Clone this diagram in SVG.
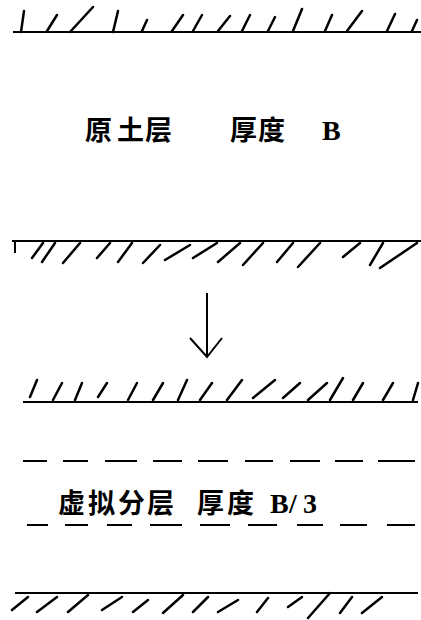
<svg xmlns="http://www.w3.org/2000/svg" width="421" height="620" viewBox="0 0 421 620">
<style>
.ln{stroke:#000;stroke-width:2;fill:none}
.h{stroke:#000;stroke-width:2.5;fill:none;stroke-linecap:round}
.cj{font-family:"Noto Sans CJK SC","Noto Sans CJK JP",sans-serif;font-weight:bold;font-size:27px;fill:#000}
.lt{font-family:"Liberation Serif",serif;font-weight:bold;font-size:28px;fill:#000}
</style>
<rect width="421" height="620" fill="#fff"/>
<g id="top-ground">
<line class="ln" x1="13" y1="32" x2="421" y2="32"/>
<path class="h" d="M21 32L24 11M47 31L57 15M70 32L93 7M113 32L118 11M142 31L147 20M172 31L183 15M193 31L202 15M218 31L230 16M242 31L250 15M268 31L275 17M293 31L302 9M325 31L332 15M347 31L362 11M387 31L395 14M412 31L417 20"/>
</g>
<g id="label-original">
<text class="cj" x="85 117 145 200 230 258" y="140">原土层 厚度</text>
<text class="lt" x="322" y="140">B</text>
</g>
<g id="bottom-ground-original">
<line class="ln" x1="12" y1="241" x2="421" y2="241"/>
<line class="ln" x1="15" y1="241" x2="15" y2="253"/>
<path class="h" d="M32 258L43 243M42 262L55 243M63 263L80 243M97 258L110 243M118 262L132 243M143 263L160 245M165 260L190 245M193 258L217 243M218 262L240 243M243 265L263 243M277 262L293 243M298 267L320 243M343 257L360 243M370 265L383 243M380 268L417 243"/>
</g>
<g id="connectors">
<line class="ln" x1="207" y1="293" x2="207" y2="357"/>
<path class="ln" d="M190 338L207 357L222 338"/>
</g>
<g id="top-ground-virtual">
<line class="ln" x1="23" y1="402" x2="418" y2="402"/>
<path class="h" d="M30 397L37 380M53 400L62 383M75 400L82 383M98 397L107 383M128 400L137 383M153 400L163 383M178 400L187 380M200 400L212 383M227 400L242 380M253 398L275 380M283 398L300 383M308 400L327 383M330 400L343 378M353 400L363 383M383 400L393 383M413 400L418 383"/>
</g>
<g id="dash-1">
<path class="ln" d="M23 461H47M63 461H88M105 461H137M153 461H182M198 461H228M245 461H273M290 461H320M335 461H363M378 461H415"/>
</g>
<g id="label-virtual">
<text class="cj" x="58 88 118 147 172 197 227" y="513">虚拟分层 厚度</text>
<text class="lt" x="270 289 303" y="513">B/3</text>
</g>
<g id="dash-2">
<path class="ln" d="M27 525H48M65 525H88M107 525H132M150 525H182M200 525H230M248 525H277M297 525H323M340 525H367M387 525H415"/>
</g>
<g id="bottom-ground-virtual">
<line class="ln" x1="15" y1="593" x2="418" y2="593"/>
<path class="h" d="M12 610L28 597M37 612L57 597M68 612L88 595M102 610L122 597M133 612L148 600M163 613L183 595M193 612L208 597M218 612L238 600M257 612L268 598M288 607L302 597M308 618L330 593M340 613L352 597M362 613L382 597"/>
</g>
</svg>
